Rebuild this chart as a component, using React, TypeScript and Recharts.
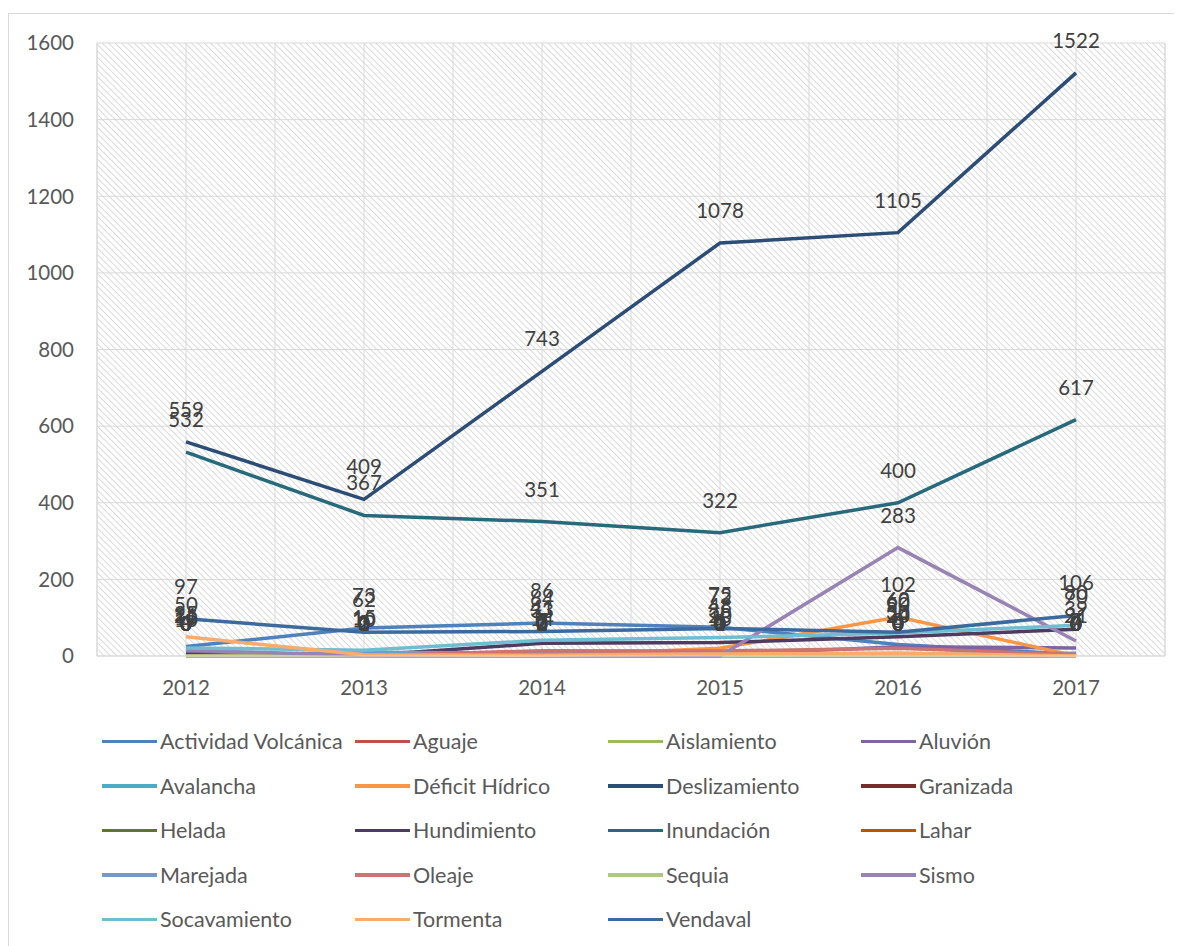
import {
  CartesianGrid,
  LabelList,
  Line,
  LineChart,
  ReferenceLine,
  XAxis,
  YAxis,
} from "recharts";

const YEARS = ["2012", "2013", "2014", "2015", "2016", "2017"];
const Y_TICKS = [0, 200, 400, 600, 800, 1000, 1200, 1400, 1600];

const actividadVolcanica = [25, 73, 86, 75, 30, 4];
const aguaje = [0, 0, 0, 0, 0, 0];
const aislamiento = [0, 0, 0, 0, 0, 0];
const aluvion = [10, 1, 5, 4, 24, 21];
const avalancha = [4, 0, 1, 0, 0, 0];
const deficitHidrico = [0, 0, 0, 20, 102, 0];
const deslizamiento = [559, 409, 743, 1078, 1105, 1522];
const granizada = [0, 0, 0, 1, 0, 0];
const helada = [0, 0, 0, 0, 0, 0];
const hundimiento = [4, 1, 33, 35, 50, 70];
const inundacion = [532, 367, 351, 322, 400, 617];
const lahar = [0, 0, 0, 0, 0, 0];
const marejada = [0, 10, 7, 0, 4, 7];
const oleaje = [0, 0, 14, 13, 20, 4];
const sequia = [0, 0, 0, 0, 0, 0];
const sismo = [15, 2, 2, 0, 283, 39];
const socavamiento = [21, 15, 41, 48, 60, 80];
const tormenta = [50, 3, 2, 5, 8, 0];
const vendaval = [97, 62, 64, 72, 62, 106];

const SERIES_NAMES = [
  "Actividad Volcánica",
  "Aguaje",
  "Aislamiento",
  "Aluvión",
  "Avalancha",
  "Déficit Hídrico",
  "Deslizamiento",
  "Granizada",
  "Helada",
  "Hundimiento",
  "Inundación",
  "Lahar",
  "Marejada",
  "Oleaje",
  "Sequia",
  "Sismo",
  "Socavamiento",
  "Tormenta",
  "Vendaval",
];

const SERIES_VALUES = [
  actividadVolcanica,
  aguaje,
  aislamiento,
  aluvion,
  avalancha,
  deficitHidrico,
  deslizamiento,
  granizada,
  helada,
  hundimiento,
  inundacion,
  lahar,
  marejada,
  oleaje,
  sequia,
  sismo,
  socavamiento,
  tormenta,
  vendaval,
];

// excel 2010 palette: accents, then darker, then lighter, then mid-dark
const SERIES_COLORS = [
  "#4F81BD",
  "#C0504D",
  "#9BBB59",
  "#8064A2",
  "#4BACC6",
  "#F79646",
  "#2C4D75",
  "#772C2A",
  "#5F7530",
  "#4D3B62",
  "#276A7C",
  "#B65708",
  "#729ACA",
  "#CD7371",
  "#AFC97A",
  "#9983B5",
  "#6FBDD1",
  "#F9AB6B",
  "#3D6A9E",
];

const data = YEARS.map((year, i) => {
  const row: Record<string, number | string> = { x: i, year };
  SERIES_NAMES.forEach((name, s) => {
    row[name] = SERIES_VALUES[s][i];
  });
  return row;
});

const GRID_COLOR = "#d9d9d9";
const TICK_COLOR = "#595959";
const LABEL_COLOR = "#404040";
const FONT = "Lato, 'Liberation Sans', sans-serif";

function ChartLegend() {
  return (
    <div
      style={{
        position: "absolute",
        left: 93,
        top: 705,
        display: "grid",
        gridTemplateColumns: "repeat(4, 253px)",
        gridAutoRows: "44.5px",
        fontSize: 21.5,
        color: TICK_COLOR,
      }}
    >
      {SERIES_NAMES.map((name, s) => (
        <div key={name} style={{ display: "flex", alignItems: "center" }}>
          <span
            style={{
              display: "inline-block",
              width: 55,
              height: 3.5,
              background: SERIES_COLORS[s],
              marginRight: 3,
            }}
          />
          <span style={{ whiteSpace: "nowrap" }}>{name}</span>
        </div>
      ))}
    </div>
  );
}

export default function App() {
  return (
    <div
      style={{
        position: "relative",
        marginTop: 5,
        width: 1170,
        height: 940,
        border: `1px solid ${GRID_COLOR}`,
        fontFamily: FONT,
        background: "#fff",
      }}
    >
      <LineChart
        width={1170}
        height={932}
        data={data}
        margin={{ top: 29, right: 14, bottom: 250, left: 0 }}
      >
        <defs>
          <pattern
            id="hatch"
            width="4.5"
            height="4.5"
            patternUnits="userSpaceOnUse"
            patternTransform="rotate(-45)"
          >
            <line x1="0" y1="0" x2="0" y2="4.5" stroke="#cfcfcf" strokeWidth="1.5" />
          </pattern>
        </defs>
        <CartesianGrid
          stroke={GRID_COLOR}
          fill="url(#hatch)"
          fillOpacity={1}
        />
        {YEARS.map((_, i) => (
          <ReferenceLine key={`b${i}`} x={i + 0.5} stroke={GRID_COLOR} />
        ))}
        <ReferenceLine x={-0.5} stroke={GRID_COLOR} />
        <XAxis
          dataKey="x"
          type="number"
          domain={[-0.5, 5.5]}
          ticks={[0, 1, 2, 3, 4, 5]}
          tickFormatter={(v: number) => YEARS[v]}
          height={40}
          tickSize={0}
          tickMargin={24}
          axisLine={{ stroke: GRID_COLOR }}
          tickLine={false}
          tick={{ fill: TICK_COLOR, fontSize: 20.5 }}
        />
        <YAxis
          type="number"
          domain={[0, 1600]}
          ticks={Y_TICKS}
          width={88}
          tickSize={0}
          tickMargin={23}
          axisLine={false}
          tickLine={false}
          tick={{ fill: TICK_COLOR, fontSize: 20.5 }}
        />
        {SERIES_NAMES.map((name, s) => (
          <Line
            key={name}
            type="linear"
            dataKey={name}
            stroke={SERIES_COLORS[s]}
            strokeWidth={3.5}
            dot={false}
            isAnimationActive={false}
          >
            <LabelList
              dataKey={name}
              position="top"
              offset={25}
              fill={LABEL_COLOR}
              fontSize={20.5}
            />
          </Line>
        ))}
      </LineChart>
      <ChartLegend />
    </div>
  );
}
